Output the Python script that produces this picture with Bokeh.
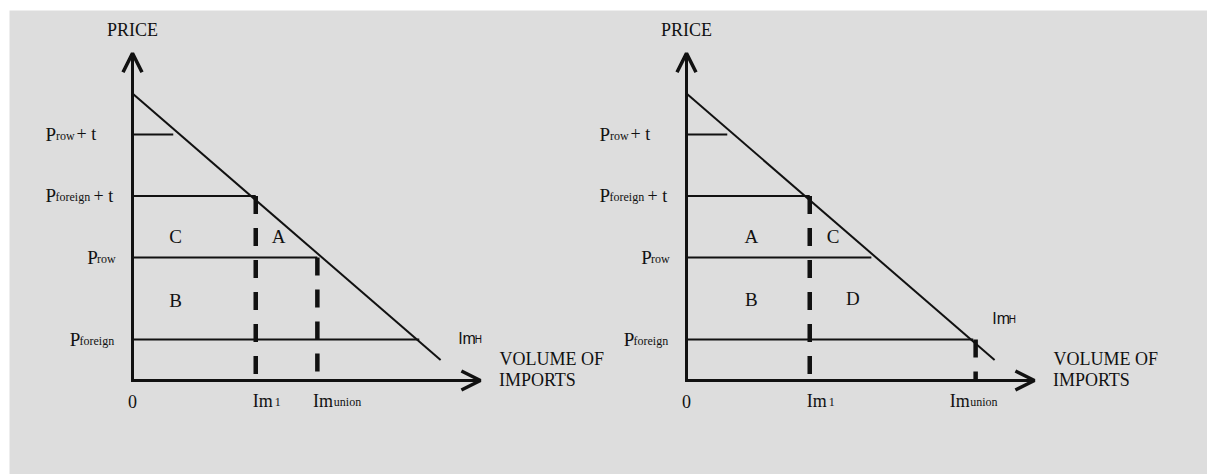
from bokeh.plotting import figure
from bokeh.models import Range1d, Arrow, OpenHead
from bokeh.core.properties import value
from bokeh.embed import file_html
from bokeh.resources import INLINE

# ---------------- data ----------------
price_levels = [6.0, 4.5, 3.0, 1.0]           # P_row+t, P_foreign+t, P_row, P_foreign
price_subs = ["row", "foreign", "row", "foreign"]
price_suffix = ["+ t", "+ t", "", ""]
level_ends = [0.86, 2.6, 3.9, 6.05]           # where each price line meets Im_H
demand_q = [0.0, 6.5]                         # Im_H line
demand_p = [7.0, 0.5]
im1 = 2.6
im_union_left = 3.9
im_union_right = 6.1
dash_q_left = [im1, im_union_left]
dash_top_left = [4.5, 3.0]
dash_q_right = [im1, im_union_right]
dash_top_right = [4.5, 1.0]
regions_left = ["C", "A", "B"]
regions_left_q = [0.91, 3.08, 0.91]
regions_left_p = [3.51, 3.51, 1.95]
regions_right = ["A", "C", "B", "D"]
regions_right_q = [1.37, 3.09, 1.37, 3.51]
regions_right_p = [3.51, 3.51, 1.98, 2.0]
imh_left_q, imh_left_p = 6.87, 0.87
imh_right_q, imh_right_p = 6.45, 1.36
x_axis_end = 7.34
y_axis_end = 7.98

# ---------------- layout / style ----------------
PX_Q = 47.4      # pixels per volume unit
PX_P = 41.0      # pixels per price unit
W, H = 1207, 474
BORDER_TOP = 10
BORDER_LEFT = 9
AXIS_PX_X = 123  # frame px from left edge to left panel's price axis
AXIS_PX_Y = 370  # frame px from top to volume axis
SHIFT = 554 / PX_Q  # right panel offset in volume units
FW, FH = W - BORDER_LEFT, H - BORDER_TOP
DY_FIX = -6.5

INK = "#111111"
SERIF = value("Liberation Serif")
SANS = value("Liberation Sans")

p = figure(width=W, height=H, output_backend="svg", toolbar_location=None,
           x_axis_location=None, y_axis_location=None,
           min_border_top=BORDER_TOP, min_border_left=BORDER_LEFT, min_border_right=0,
           min_border_bottom=0, background_fill_color="#dddddd",
           border_fill_color="white", outline_line_color=None)
p.x_range = Range1d(-AXIS_PX_X / PX_Q, (FW - AXIS_PX_X) / PX_Q)
p.y_range = Range1d(-(FH - AXIS_PX_Y) / PX_P, AXIS_PX_Y / PX_P)
p.grid.visible = False


def txt(x, y, t, size, dx=0, dy=0, font=SERIF, align="left"):
    p.text(x=[x], y=[y], text=[t], x_offset=dx, y_offset=dy + DY_FIX,
           text_font=font, text_font_size=value(f"{size}px"),
           text_align=align, text_baseline="alphabetic", text_color=INK)


# offsets of label pieces (px): P, subscript, suffix
price_label_offsets = [(-87, -76.5, -56), (-87, -77, -39), (-45.3, -35.5, None), (-62.7, -53, None)]


def panel(s, dash_q, dash_top, regions, rq, rp, imh_q, imh_p, union_dx, imh_sub_dx):
    # axes with arrow heads
    p.add_layout(Arrow(end=OpenHead(size=19, line_width=3.5, line_color=INK),
                       x_start=s, y_start=-0.03, x_end=s, y_end=y_axis_end,
                       line_width=3, line_color=INK))
    p.add_layout(Arrow(end=OpenHead(size=19, line_width=3.5, line_color=INK),
                       x_start=s - 0.03, y_start=0, x_end=s + x_axis_end, y_end=0,
                       line_width=3, line_color=INK))
    # import demand
    p.line([s + q for q in demand_q], demand_p, line_width=2, line_color=INK)
    # price lines
    p.segment(x0=[s] * len(price_levels), y0=price_levels,
              x1=[s + e for e in level_ends], y1=price_levels,
              line_width=2.2, line_color=INK)
    # dashed volume lines
    p.segment(x0=[s + q for q in dash_q], y0=dash_top,
              x1=[s + q for q in dash_q], y1=[0] * len(dash_q),
              line_width=4.5, line_color=INK, line_dash="18 14")
    # price labels
    for lvl, sub, suf, (dp, dsub, dsuf) in zip(price_levels, price_subs, price_suffix, price_label_offsets):
        txt(s, lvl, "P", 19, dp, 6)
        txt(s, lvl, sub, 12, dsub, 7.5)
        if suf:
            txt(s, lvl, suf, 18, dsuf, 6)
    # region letters
    for t, q, pp in zip(regions, rq, rp):
        txt(s + q, pp, t, 19, 0, 6.5, align="center")
    # volume tick labels
    txt(s, 0, "0", 18, 0, 27, align="center")
    txt(s + dash_q[0], 0, "Im", 18, -3, 27)
    txt(s + dash_q[0], 0, "1", 12, 19, 28)
    txt(s + dash_q[1], 0, "Im", 18, union_dx[0], 27)
    txt(s + dash_q[1], 0, "union", 12, union_dx[1], 28)
    # Im_H
    txt(s + imh_q, imh_p, "Im", 16, 0, 0, font=SANS)
    txt(s + imh_q, imh_p, "H", 10, imh_sub_dx, 1, font=SANS)
    # axis titles
    txt(s, y_axis_end, "PRICE", 18, 0, -17, align="center")
    txt(s + x_axis_end, 0, "VOLUME OF", 18, 19, -15)
    txt(s + x_axis_end, 0, "IMPORTS", 18, 18.5, 6)


panel(0, dash_q_left, dash_top_left, regions_left, regions_left_q, regions_left_p,
      imh_left_q, imh_left_p, (-4.3, 16.5), 16.5)
panel(SHIFT, dash_q_right, dash_top_right, regions_right, regions_right_q, regions_right_p,
      imh_right_q, imh_right_p, (-26, -5.5), 16.5)

open("out.html", "w").write(file_html(p, INLINE))
